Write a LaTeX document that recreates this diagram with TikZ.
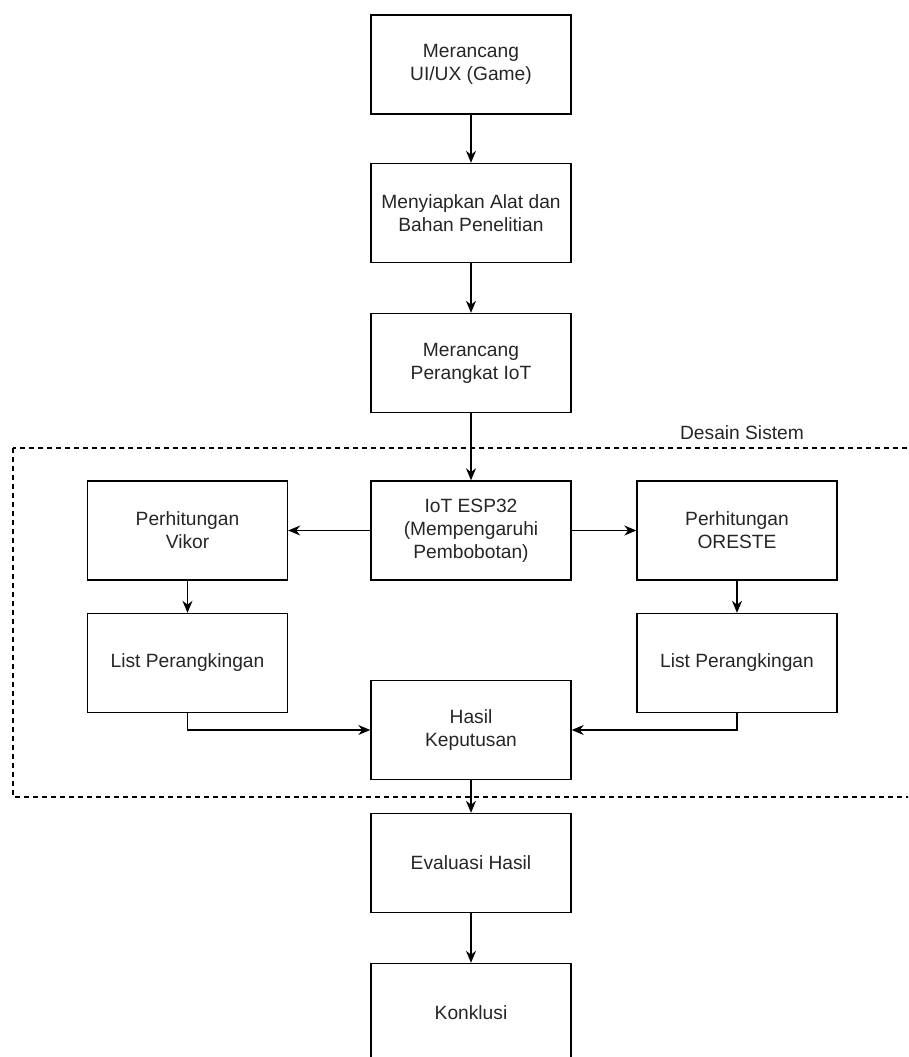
\documentclass[tikz,border=0pt]{standalone}
\usepackage{fontspec}
\setmainfont{Liberation Sans}
\usetikzlibrary{arrows.meta}

\tikzset{
  langkah/.style={draw, line width=1.4pt, minimum width=200pt, minimum height=99pt,
    inner sep=0pt, align=center, font=\fontsize{19.2}{23}\selectfont, text=black!85},
  panah/.style={line width=1.4pt, -{Stealth[length=12pt,width=10pt]}},
  bingkai/.style={line width=1.2pt, dash pattern=on 5pt off 4pt}
}

\begin{document}
\begin{tikzpicture}[x=1pt,y=-1pt]
        \clip (0,0) rectangle (908,1057);
        \fill[white] (0,0) rectangle (908,1057);

        \draw[bingkai] (13,448) rectangle (930,797);
        \node[font=\fontsize{19.2}{23}\selectfont, text=black!85] (desain) at (742,433) {Desain Sistem};

        \node[langkah] (uiux) at (471,64.5) {Merancang\\UI/UX (Game)};
        \node[langkah] (alat) at (471,213) {Menyiapkan Alat dan\\Bahan Penelitian};
        \node[langkah] (iotdev) at (471,363) {Merancang\\Perangkat IoT};
        \node[langkah] (esp) at (471,530.5) {IoT ESP32\\(Mempengaruhi\\Pembobotan)};
        \node[langkah] (vikor) at (187.5,530.5) {Perhitungan\\Vikor};
        \node[langkah] (oreste) at (737,530.5) {Perhitungan\\ORESTE};
        \node[langkah] (listvikor) at (187.5,663) {List Perangkingan};
        \node[langkah] (listoreste) at (737,663) {List Perangkingan};
        \node[langkah] (hasil) at (471,730) {Hasil\\Keputusan};
        \node[langkah] (evaluasi) at (471,863) {Evaluasi Hasil};
        \node[langkah] (konklusi) at (471,1013) {Konklusi};

        \draw[panah] (uiux) -- (alat);
        \draw[panah] (alat) -- (iotdev);
        \draw[panah] (iotdev) -- (esp);
        \draw[panah] (esp) -- (vikor);
        \draw[panah] (esp) -- (oreste);
        \draw[panah] (vikor) -- (listvikor);
        \draw[panah] (oreste) -- (listoreste);
        \draw[panah] (listvikor.south) |- (hasil.west);
        \draw[panah] (listoreste.south) |- (hasil.east);
        \draw[panah] (hasil) -- (evaluasi);
        \draw[panah] (evaluasi) -- (konklusi);
    \end{tikzpicture}
\end{document}
